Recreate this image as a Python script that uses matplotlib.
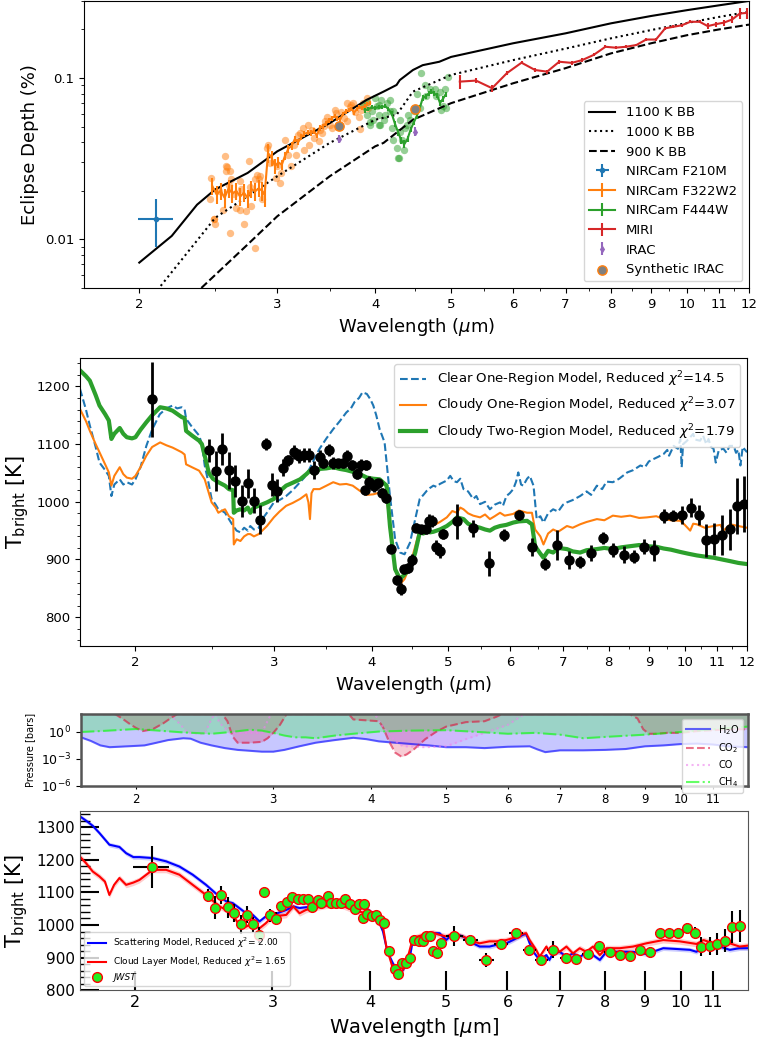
import numpy as np
import matplotlib
matplotlib.use('Agg')
import matplotlib.pyplot as plt
from matplotlib.ticker import FixedLocator, FixedFormatter, NullFormatter, NullLocator, MultipleLocator

# ---------------- eclipse depth panel ----------------
bb_1100 = [(2.0, 0.00718), (2.2, 0.0105), (2.37, 0.0164), (2.5, 0.0204), (2.75, 0.0258),
           (3.0, 0.0351), (3.5, 0.0525), (3.9, 0.0731), (4.1, 0.0823), (4.26, 0.0905),
           (4.30, 0.097), (4.47, 0.112), (4.60, 0.120), (4.83, 0.126), (5.0, 0.135),
           (6.0, 0.164), (7.0, 0.189), (8.0, 0.218), (9.0, 0.242), (10.0, 0.263),
           (11.0, 0.282), (12.0, 0.30)]
bb_1000 = [(2.13, 0.00515), (2.5, 0.0136), (3.0, 0.0246), (3.5, 0.0396), (4.0, 0.0551),
           (4.26, 0.0591), (4.47, 0.0823), (5.0, 0.1044), (6.0, 0.129), (7.0, 0.152),
           (8.0, 0.176), (9.0, 0.198), (10.0, 0.219), (11.0, 0.239), (12.0, 0.257)]
bb_900 = [(2.40, 0.0050), (2.75, 0.0093), (3.0, 0.0139), (3.5, 0.0246), (4.0, 0.0377),
          (4.1, 0.0396), (4.47, 0.0551), (5.0, 0.0698), (6.0, 0.0927), (7.0, 0.115),
          (8.0, 0.142), (9.0, 0.164), (10.0, 0.184), (11.0, 0.200), (12.0, 0.214)]

f210_wl, f210_depth, f210_xerr, f210_yerr = 2.10, 0.0134, 0.11, 0.0044

# F322W2 binned spectrum (wavelength, depth, error)
f322_bins = [(2.48, 0.0213, 0.0026), (2.51, 0.0190, 0.0024), (2.54, 0.0200, 0.0025),
             (2.57, 0.0181, 0.0024), (2.60, 0.0207, 0.0026), (2.63, 0.0192, 0.0025),
             (2.66, 0.0200, 0.0024), (2.69, 0.0184, 0.0024), (2.72, 0.0195, 0.0025),
             (2.75, 0.0180, 0.0023), (2.78, 0.0205, 0.0025), (2.81, 0.0198, 0.0024),
             (2.84, 0.0207, 0.0025), (2.87, 0.0200, 0.0026), (2.89, 0.0188, 0.0030),
             (2.92, 0.0343, 0.0045), (2.95, 0.0320, 0.0035), (2.98, 0.0285, 0.0030),
             (3.01, 0.0300, 0.0025), (3.04, 0.0290, 0.0022), (3.07, 0.0330, 0.0020),
             (3.10, 0.0365, 0.0020), (3.13, 0.0380, 0.0020), (3.16, 0.0420, 0.0020),
             (3.19, 0.0400, 0.0018), (3.22, 0.0430, 0.0018), (3.25, 0.0450, 0.0018),
             (3.28, 0.0460, 0.0018), (3.31, 0.0455, 0.0018), (3.34, 0.0470, 0.0018),
             (3.37, 0.0440, 0.0018), (3.40, 0.0490, 0.0018), (3.43, 0.0500, 0.0018),
             (3.46, 0.0520, 0.0018), (3.49, 0.0545, 0.0018), (3.52, 0.0560, 0.0018),
             (3.55, 0.0580, 0.0018), (3.58, 0.0560, 0.0018), (3.61, 0.0555, 0.0018),
             (3.64, 0.0600, 0.0018), (3.67, 0.0620, 0.0018), (3.70, 0.0630, 0.0018),
             (3.73, 0.0645, 0.0018), (3.76, 0.0610, 0.0018), (3.79, 0.0640, 0.0018),
             (3.82, 0.0660, 0.0018), (3.85, 0.0650, 0.0018), (3.88, 0.0670, 0.0018),
             (3.91, 0.0690, 0.0018), (3.94, 0.0700, 0.0018)]
f322_points = [(2.47, 0.0240), (2.46, 0.0177), (2.49, 0.0133), (2.50, 0.0124), (2.57, 0.0327),
               (2.58, 0.0265), (2.59, 0.0282), (2.61, 0.0265), (2.62, 0.0235), (2.60, 0.0218),
               (2.61, 0.0110), (2.56, 0.0153), (2.69, 0.0229), (2.70, 0.0204), (2.76, 0.0305),
               (2.74, 0.0150), (2.69, 0.0153), (2.66, 0.0157), (2.72, 0.0124), (2.78, 0.0161),
               (2.81, 0.0235), (2.83, 0.0252), (2.84, 0.0235), (2.85, 0.0246), (2.81, 0.0089),
               (2.91, 0.0368), (2.92, 0.0386), (2.94, 0.0297), (2.99, 0.0240), (3.00, 0.0284),
               (3.02, 0.0224), (3.03, 0.0258), (3.07, 0.0414), (3.10, 0.0335), (3.12, 0.0284),
               (3.15, 0.0386), (3.17, 0.0335), (3.19, 0.0445), (3.21, 0.0456), (3.24, 0.0490),
               (3.25, 0.0360), (3.28, 0.0513), (3.29, 0.0386), (3.32, 0.0478), (3.34, 0.0425),
               (3.39, 0.0405), (3.40, 0.0478), (3.42, 0.0456), (3.44, 0.0501), (3.45, 0.0538),
               (3.47, 0.0577), (3.50, 0.0513), (3.52, 0.0490), (3.55, 0.0634), (3.57, 0.0605),
               (3.62, 0.0619), (3.65, 0.0564), (3.68, 0.0538), (3.71, 0.0665), (3.73, 0.0681),
               (3.77, 0.0619), (3.81, 0.0577), (3.83, 0.0483), (3.84, 0.0634), (3.86, 0.0698),
               (3.90, 0.0749), (3.92, 0.0649), (3.75, 0.0698), (3.68, 0.0698), (2.49, 0.0133),
               (2.58, 0.0284), (2.53, 0.0200), (2.64, 0.0190), (2.77, 0.0210), (2.87, 0.0178)]

# F444W binned spectrum (wavelength, depth, error)
f444_bins = [(3.88, 0.063, 0.002), (3.92, 0.064, 0.002), (3.96, 0.066, 0.002), (4.00, 0.065, 0.002),
             (4.04, 0.066, 0.002), (4.08, 0.066, 0.002), (4.12, 0.067, 0.002), (4.16, 0.064, 0.002),
             (4.20, 0.060, 0.002), (4.24, 0.052, 0.002), (4.28, 0.046, 0.002), (4.32, 0.041, 0.002),
             (4.36, 0.039, 0.002), (4.40, 0.042, 0.002), (4.44, 0.048, 0.002), (4.48, 0.053, 0.002),
             (4.52, 0.058, 0.002), (4.56, 0.065, 0.003), (4.60, 0.075, 0.003), (4.64, 0.077, 0.003),
             (4.68, 0.080, 0.003), (4.72, 0.082, 0.003), (4.76, 0.080, 0.003), (4.80, 0.078, 0.003),
             (4.84, 0.070, 0.003), (4.88, 0.074, 0.003), (4.92, 0.079, 0.003)]
f444_points = [(4.58, 0.108), (4.96, 0.101), (4.63, 0.090), (4.70, 0.086), (4.77, 0.086),
               (4.84, 0.082), (4.91, 0.086), (4.52, 0.080), (4.65, 0.077), (4.79, 0.077),
               (4.88, 0.067), (4.92, 0.065), (4.86, 0.063), (4.56, 0.065), (4.48, 0.062),
               (4.41, 0.059), (4.43, 0.055), (4.39, 0.051), (4.37, 0.049), (4.30, 0.046),
               (4.33, 0.041), (4.26, 0.037), (4.35, 0.036), (4.29, 0.032), (4.22, 0.041),
               (4.20, 0.049), (4.10, 0.055), (4.06, 0.051), (3.98, 0.055), (3.94, 0.051),
               (3.90, 0.059), (4.02, 0.067), (4.14, 0.070), (4.18, 0.062), (3.90, 0.071),
               (3.86, 0.067), (3.96, 0.062), (4.04, 0.059), (4.30, 0.055), (4.22, 0.062),
               (4.12, 0.059), (4.00, 0.075), (4.07, 0.073), (4.18, 0.073), (4.04, 0.068),
               (3.94, 0.053), (4.04, 0.051), (4.28, 0.032)]

# MIRI binned spectrum (wavelength, depth, error)
miri_bins = [(5.13, 0.0949, 0.0090), (5.38, 0.0963, 0.0030), (5.64, 0.0864, 0.0040),
             (5.89, 0.107, 0.003), (6.15, 0.1243, 0.003), (6.40, 0.112, 0.003),
             (6.63, 0.1094, 0.003), (6.87, 0.126, 0.004), (7.13, 0.124, 0.003),
             (7.35, 0.129, 0.003), (7.60, 0.1388, 0.003), (7.87, 0.156, 0.003),
             (8.11, 0.154, 0.003), (8.36, 0.156, 0.003), (8.62, 0.160, 0.003),
             (8.87, 0.173, 0.004), (9.13, 0.173, 0.004), (9.38, 0.203, 0.004),
             (9.61, 0.2075, 0.004), (9.85, 0.212, 0.004), (10.10, 0.2228, 0.005),
             (10.38, 0.2228, 0.005), (10.63, 0.2095, 0.008), (10.90, 0.2156, 0.008),
             (11.14, 0.220, 0.010), (11.42, 0.2301, 0.011), (11.68, 0.2506, 0.020),
             (11.93, 0.253, 0.020)]

irac_wl = [3.6, 4.5]
irac_depth = [0.042, 0.0465]
irac_err = [0.0025, 0.003]
synth_irac_depth = [0.0506, 0.0641]

# ---------------- brightness temperature panel ----------------
clear_model = [(1.70, 1196), (1.73, 1160), (1.75, 1132), (1.78, 1095), (1.80, 1068), (1.83, 1055),
               (1.85, 1045), (1.864, 1010), (1.88, 1030), (1.91, 1039), (1.93, 1030), (1.95, 1034),
               (1.98, 1030), (2.0, 1039), (2.03, 1060), (2.065, 1097), (2.1, 1125), (2.148, 1152),
               (2.19, 1162), (2.23, 1167), (2.26, 1162), (2.29, 1164), (2.31, 1160), (2.32, 1144),
               (2.36, 1130), (2.41, 1115), (2.43, 1100), (2.45, 1063), (2.48, 1030), (2.5, 1005),
               (2.53, 995), (2.55, 987), (2.58, 984), (2.6, 981), (2.63, 970), (2.663, 958),
               (2.69, 950), (2.72, 947), (2.75, 955), (2.78, 950), (2.8, 958), (2.83, 952),
               (2.87, 955), (2.9, 970), (2.94, 981), (2.97, 990), (3.0, 999), (3.05, 1003),
               (3.11, 1010), (3.17, 1020), (3.24, 1034), (3.28, 1042), (3.33, 1057), (3.38, 1075),
               (3.43, 1092), (3.5, 1110), (3.57, 1126), (3.64, 1140), (3.71, 1155), (3.76, 1162),
               (3.8, 1173), (3.85, 1180), (3.89, 1190), (3.94, 1187), (3.98, 1178), (4.015, 1167),
               (4.05, 1150), (4.09, 1126), (4.15, 1103), (4.216, 1010), (4.28, 935), (4.342, 912),
               (4.4, 909), (4.47, 929), (4.54, 970), (4.6, 1005), (4.65, 1012), (4.695, 1019),
               (4.74, 1024), (4.787, 1028), (4.83, 1026), (4.88, 1031), (4.93, 1034), (4.98, 1037),
               (5.03, 1045), (5.08, 1036), (5.13, 1034), (5.18, 1040), (5.23, 1022), (5.3, 1018),
               (5.38, 1005), (5.43, 1010), (5.49, 996), (5.57, 1000), (5.65, 987), (5.73, 995),
               (5.82, 999), (5.87, 993), (5.93, 1010), (5.99, 1015), (6.05, 1022), (6.1, 1035),
               (6.14, 1051), (6.19, 1030), (6.23, 1028), (6.3, 1040), (6.35, 1045), (6.42, 1028),
               (6.48, 970), (6.55, 975), (6.61, 964), (6.7, 980), (6.8, 987), (6.9, 983),
               (7.0, 995), (7.08, 999), (7.2, 1003), (7.36, 1010), (7.5, 1018), (7.6, 1012),
               (7.73, 1028), (7.85, 1022), (7.95, 1035), (8.1, 1034), (8.25, 1040), (8.45, 1051),
               (8.6, 1055), (8.78, 1063), (8.9, 1060), (9.0, 1070), (9.12, 1074), (9.25, 1078),
               (9.4, 1083), (9.5, 1090), (9.55, 1080), (9.68, 1097), (9.8, 1092), (9.87, 1109),
               (9.91, 1060), (9.95, 1100), (10.05, 1105), (10.16, 1112), (10.25, 1118), (10.3, 1108),
               (10.46, 1106), (10.55, 1115), (10.65, 1100), (10.72, 1109), (10.8, 1095), (10.88, 1092),
               (10.95, 1068), (11.05, 1090), (11.2, 1092), (11.3, 1085), (11.4, 1097), (11.54, 1097),
               (11.62, 1085), (11.7, 1090), (11.77, 1063), (11.85, 1095), (12.0, 1086)]
cloudy_one = [(1.70, 1161), (1.73, 1140), (1.75, 1123), (1.78, 1100), (1.80, 1086), (1.83, 1065),
              (1.85, 1051), (1.864, 1028), (1.88, 1045), (1.91, 1060), (1.93, 1048), (1.95, 1042),
              (1.98, 1040), (2.0, 1045), (2.03, 1060), (2.065, 1080), (2.1, 1095), (2.15, 1103),
              (2.19, 1098), (2.23, 1094), (2.26, 1090), (2.29, 1086), (2.31, 1082), (2.32, 1065),
              (2.36, 1060), (2.41, 1054), (2.45, 1039), (2.48, 1015), (2.5, 999), (2.53, 990),
              (2.55, 981), (2.58, 985), (2.6, 987), (2.63, 975), (2.663, 970), (2.668, 926),
              (2.69, 935), (2.72, 932), (2.75, 940), (2.78, 944), (2.8, 944), (2.83, 940),
              (2.87, 944), (2.9, 950), (2.94, 958), (3.0, 973), (3.05, 983), (3.11, 993),
              (3.17, 998), (3.24, 1005), (3.3, 1013), (3.32, 999), (3.335, 970), (3.35, 1015),
              (3.37, 1022), (3.43, 1022), (3.5, 1028), (3.57, 1034), (3.64, 1030), (3.71, 1031),
              (3.78, 1028), (3.86, 1019), (3.94, 1012), (4.015, 1013), (4.09, 1016), (4.175, 1010),
              (4.216, 952), (4.28, 883), (4.342, 857), (4.4, 866), (4.47, 889), (4.54, 923),
              (4.6, 952), (4.695, 958), (4.787, 959), (4.88, 965), (4.98, 973), (5.06, 984),
              (5.13, 981), (5.18, 990), (5.23, 987), (5.3, 980), (5.38, 976), (5.49, 973),
              (5.57, 978), (5.65, 970), (5.73, 975), (5.82, 981), (5.9, 976), (6.05, 979),
              (6.15, 985), (6.3, 981), (6.39, 981), (6.45, 952), (6.55, 940), (6.61, 926),
              (6.7, 945), (6.8, 952), (6.9, 948), (7.08, 958), (7.2, 955), (7.36, 961),
              (7.5, 965), (7.73, 970), (7.9, 968), (8.1, 976), (8.3, 974), (8.52, 976),
              (8.75, 972), (8.95, 973), (9.2, 975), (9.4, 970), (9.6, 968), (9.87, 967),
              (10.0, 960), (10.16, 950), (10.25, 962), (10.36, 961), (10.6, 955), (10.88, 958),
              (11.1, 960), (11.2, 950), (11.43, 961), (11.7, 958), (12.0, 955)]
cloudy_two = [(1.70, 1228), (1.73, 1218), (1.75, 1210), (1.78, 1185), (1.80, 1167), (1.83, 1152),
              (1.85, 1141), (1.864, 1109), (1.88, 1118), (1.91, 1128), (1.93, 1118), (1.95, 1112),
              (1.98, 1110), (2.0, 1112), (2.03, 1125), (2.065, 1138), (2.1, 1150), (2.15, 1164),
              (2.19, 1162), (2.23, 1158), (2.29, 1147), (2.31, 1145), (2.32, 1123), (2.36, 1115),
              (2.41, 1106), (2.43, 1100), (2.45, 1080), (2.48, 1050), (2.51, 1040), (2.55, 1034),
              (2.6, 1028), (2.63, 1022), (2.663, 1020), (2.668, 981), (2.69, 985), (2.72, 987),
              (2.75, 985), (2.78, 990), (2.8, 981), (2.83, 990), (2.87, 993), (2.94, 999),
              (3.0, 1005), (3.05, 1018), (3.11, 1028), (3.17, 1033), (3.24, 1039), (3.3, 1048),
              (3.335, 1054), (3.38, 1048), (3.43, 1057), (3.5, 1058), (3.57, 1060), (3.64, 1057),
              (3.71, 1055), (3.78, 1052), (3.86, 1048), (3.94, 1042), (4.015, 1040), (4.09, 1039),
              (4.175, 1028), (4.216, 958), (4.28, 883), (4.342, 866), (4.4, 874), (4.47, 883),
              (4.54, 912), (4.6, 947), (4.65, 945), (4.695, 950), (4.74, 947), (4.787, 948),
              (4.88, 952), (4.98, 958), (5.06, 965), (5.13, 973), (5.23, 970), (5.3, 962),
              (5.38, 958), (5.49, 955), (5.57, 952), (5.65, 950), (5.73, 955), (5.82, 958),
              (5.93, 960), (6.05, 964), (6.15, 966), (6.30, 967), (6.39, 961), (6.45, 923),
              (6.55, 910), (6.61, 903), (6.7, 915), (6.8, 912), (6.9, 920), (7.08, 918),
              (7.2, 914), (7.36, 912), (7.5, 916), (7.73, 918), (7.9, 920), (8.1, 918),
              (8.3, 921), (8.52, 923), (8.75, 925), (8.95, 923), (9.2, 922), (9.4, 919),
              (9.6, 917), (9.87, 913), (10.1, 910), (10.36, 907), (10.6, 905), (10.88, 903),
              (11.15, 900), (11.43, 897), (11.7, 894), (12.0, 892)]

# measured brightness temperatures (wavelength, T, T error, wavelength half-width)
tb_data = [(2.10, 1178, 65, 0.11),
           (2.48, 1089, 20, 0), (2.53, 1053, 35, 0), (2.58, 1092, 28, 0), (2.63, 1055, 32, 0),
           (2.68, 1036, 28, 0), (2.73, 1002, 28, 0), (2.78, 1032, 25, 0), (2.83, 1002, 22, 0),
           (2.88, 969, 25, 0), (2.93, 1100, 10, 0), (2.98, 1030, 20, 0), (3.03, 1019, 20, 0),
           (3.08, 1059, 15, 0), (3.13, 1072, 10, 0), (3.18, 1086, 12, 0), (3.23, 1080, 12, 0),
           (3.28, 1081, 12, 0), (3.33, 1081, 12, 0), (3.37, 1055, 15, 0), (3.43, 1077, 12, 0),
           (3.46, 1068, 10, 0), (3.53, 1090, 10, 0), (3.57, 1067, 10, 0), (3.62, 1067, 8, 0),
           (3.67, 1067, 8, 0), (3.72, 1079, 10, 0), (3.77, 1064, 8, 0), (3.83, 1049, 10, 0),
           (3.87, 1064, 10, 0), (3.93, 1064, 8, 0), (3.92, 1020, 8, 0), (3.97, 1035, 10, 0),
           (4.02, 1027, 10, 0), (4.07, 1032, 8, 0), (4.12, 1016, 8, 0), (4.17, 1006, 8, 0),
           (4.23, 919, 8, 0), (4.30, 864, 8, 0), (4.35, 849, 10, 0), (4.39, 883, 8, 0),
           (4.45, 885, 8, 0), (4.50, 899, 10, 0), (4.55, 955, 8, 0), (4.62, 952, 8, 0),
           (4.68, 952, 8, 0), (4.72, 967, 12, 0), (4.77, 967, 10, 0), (4.82, 921, 12, 0),
           (4.88, 915, 12, 0), (4.93, 944, 8, 0),
           (5.13, 966, 30, 0.125), (5.38, 954, 15, 0.125), (5.64, 893, 22, 0.125),
           (5.89, 942, 10, 0.125), (6.15, 977, 8, 0.125), (6.40, 922, 16, 0.125),
           (6.63, 892, 10, 0.125), (6.87, 925, 26, 0.125), (7.13, 899, 15, 0.125),
           (7.35, 896, 10, 0.125), (7.60, 911, 14, 0.125), (7.87, 937, 10, 0.125),
           (8.11, 916, 12, 0.125), (8.36, 908, 15, 0.125), (8.62, 905, 12, 0.125),
           (8.87, 922, 13, 0.125), (9.13, 916, 18, 0.125), (9.41, 976, 12, 0.125),
           (9.66, 976, 10, 0.125), (9.93, 977, 15, 0.125), (10.18, 990, 16, 0.125),
           (10.44, 977, 18, 0.125), (10.63, 933, 29, 0.125), (10.90, 936, 28, 0.125),
           (11.14, 942, 35, 0.125), (11.40, 952, 36, 0.125), (11.65, 993, 49, 0.125),
           (11.90, 996, 49, 0.125)]

# ---------------- contribution pressures (log10 bar) ----------------
h2o_logp = [(1.70, -0.6), (1.75, -1.0), (1.80, -1.5), (1.85, -1.7), (1.90, -1.65), (1.95, -1.6),
            (2.0, -1.55), (2.05, -1.5), (2.1, -1.3), (2.2, -0.9), (2.3, -0.7), (2.35, -0.75),
            (2.42, -1.2), (2.5, -1.5), (2.6, -1.8), (2.7, -2.0), (2.8, -2.1), (2.9, -2.2),
            (3.0, -2.2), (3.1, -2.0), (3.24, -1.6), (3.4, -1.2), (3.6, -0.9), (3.8, -0.65),
            (3.95, -0.8), (4.1, -1.05), (4.3, -1.2), (4.52, -1.35), (4.75, -1.5), (5.0, -1.7),
            (5.3, -1.7), (5.6, -1.8), (6.0, -1.65), (6.4, -1.6), (6.55, -1.95), (6.7, -2.25),
            (7.0, -2.05), (7.5, -2.05), (8.0, -2.0), (8.5, -1.9), (9.0, -1.6), (9.5, -1.5),
            (10.0, -1.35), (10.5, -1.3), (11.0, -1.4), (11.5, -1.6), (12.2, -1.7)]
co2_logp = [(1.70, 2.0), (1.88, 2.0), (1.92, 1.5), (1.97, 0.8), (2.0, 0.45), (2.04, 0.1),
            (2.1, 0.3), (2.17, 1.0), (2.22, 1.6), (2.26, 2.0), (2.58, 2.0), (2.62, 1.2),
            (2.66, -0.5), (2.7, -1.2), (2.8, -1.2), (2.9, -1.1), (2.95, -0.7), (3.0, -0.1),
            (3.06, 0.8), (3.12, 2.0), (3.75, 2.0), (3.8, 1.4), (3.95, 1.3), (4.1, 1.2),
            (4.15, 0.5), (4.22, -1.0), (4.3, -2.3), (4.38, -2.75), (4.45, -2.5), (4.55, -1.9),
            (4.7, -0.8), (4.85, 0.0), (5.0, 0.6), (5.3, 1.1), (5.6, 1.2), (5.8, 1.7),
            (5.9, 2.0), (8.6, 2.0), (8.8, 1.5), (8.95, 0.3), (9.1, -0.2), (9.3, -0.2),
            (9.6, -0.1), (10.0, -0.1), (10.5, 0.1), (11.0, 0.2), (11.5, 0.3), (12.2, 0.3)]
co_logp = [(1.70, 2.0), (2.2, 2.0), (2.27, 1.0), (2.33, -0.1), (2.45, -0.2), (2.5, 1.5),
           (2.53, 2.0), (2.56, 1.0), (2.64, -0.1), (2.9, -0.1), (2.98, 2.0), (4.05, 2.0),
           (4.15, 0.5), (4.3, -1.0), (4.4, -1.6), (4.7, -1.7), (5.0, -1.6), (5.3, -0.8),
           (5.6, -0.1), (6.0, 0.8), (6.3, 2.0), (12.2, 2.0)]
ch4_logp = [(1.70, 0.0), (1.8, 0.1), (2.0, 0.33), (2.1, 0.2), (2.3, -0.05), (2.5, -0.2),
            (2.65, 0.0), (2.8, 0.25), (2.9, 0.15), (3.0, -0.1), (3.1, -0.4), (3.2, -0.6),
            (3.3, -0.6), (3.4, -0.7), (3.6, -0.4), (3.8, -0.2), (4.1, 0.05), (4.5, 0.15),
            (5.0, 0.2), (5.5, 0.0), (6.0, -0.2), (6.5, -0.1), (7.0, -0.3), (7.5, -0.7),
            (8.0, -0.55), (9.0, -0.3), (10.0, 0.0), (11.0, 0.3), (12.2, 0.6)]

# ---------------- retrieval comparison panel ----------------
scattering_model = [(1.699, 1333), (1.73, 1320), (1.765, 1304), (1.80, 1282), (1.854, 1246),
                    (1.91, 1239), (1.948, 1220), (1.99, 1208), (2.026, 1208), (2.107, 1205),
                    (2.192, 1195), (2.28, 1179), (2.371, 1154), (2.466, 1123), (2.565, 1087),
                    (2.62, 1072), (2.668, 1067), (2.72, 1052), (2.776, 1036), (2.83, 1031),
                    (2.887, 1011), (2.94, 1026), (3.0, 1031), (3.124, 1046), (3.19, 1057),
                    (3.249, 1052), (3.379, 1057), (3.515, 1062), (3.657, 1062), (3.803, 1057),
                    (3.956, 1052), (4.03, 1036), (4.115, 1005), (4.156, 980), (4.197, 934),
                    (4.24, 903), (4.279, 883), (4.32, 867), (4.364, 857), (4.41, 862),
                    (4.451, 883), (4.5, 903), (4.539, 954), (4.61, 963), (4.676, 965),
                    (4.815, 975), (4.91, 975), (5.009, 954), (5.11, 975), (5.262, 965),
                    (5.42, 944), (5.527, 934), (5.69, 934), (5.806, 939), (5.98, 944),
                    (6.098, 954), (6.28, 970), (6.34, 973), (6.406, 944), (6.50, 913),
                    (6.598, 893), (6.73, 908), (6.79, 893), (6.862, 913), (7.0, 918),
                    (7.14, 903), (7.28, 913), (7.426, 903), (7.57, 913), (7.723, 908),
                    (7.88, 893), (8.035, 918), (8.357, 918), (8.691, 918), (9.041, 911),
                    (9.5, 929), (9.975, 926), (10.28, 924), (10.48, 918), (10.7, 934),
                    (11.01, 929), (11.23, 934), (11.56, 924), (11.9, 929), (12.2, 929)]
cloud_layer_model = [(1.699, 1210), (1.73, 1190), (1.765, 1164), (1.80, 1149), (1.83, 1133),
                     (1.854, 1092), (1.88, 1123), (1.91, 1144), (1.948, 1123), (1.99, 1130),
                     (2.026, 1138), (2.107, 1169), (2.192, 1169), (2.28, 1154), (2.371, 1123),
                     (2.466, 1092), (2.565, 1057), (2.62, 1046), (2.668, 1031), (2.72, 1000),
                     (2.776, 995), (2.83, 1005), (2.887, 990), (2.94, 1005), (3.0, 1026),
                     (3.124, 1031), (3.19, 1057), (3.249, 1036), (3.31, 1046), (3.379, 1052),
                     (3.515, 1059), (3.657, 1062), (3.803, 1046), (3.956, 1036), (4.115, 1016),
                     (4.156, 995), (4.197, 934), (4.279, 867), (4.33, 842), (4.38, 852),
                     (4.451, 883), (4.539, 960), (4.676, 970), (4.815, 977), (4.91, 970),
                     (5.009, 965), (5.11, 973), (5.262, 965), (5.42, 950), (5.527, 944),
                     (5.69, 950), (5.806, 950), (5.98, 954), (6.098, 960), (6.28, 973),
                     (6.34, 975), (6.406, 954), (6.53, 924), (6.598, 903), (6.73, 934),
                     (6.79, 918), (6.862, 934), (7.0, 918), (7.14, 934), (7.28, 913),
                     (7.426, 929), (7.57, 918), (7.723, 934), (7.88, 908), (8.035, 929),
                     (8.357, 929), (8.691, 934), (9.041, 944), (9.5, 954), (9.975, 950),
                     (10.48, 942), (10.7, 954), (11.01, 944), (11.56, 944), (11.9, 934),
                     (12.2, 937)]
scattering_band = 7
cloud_band = 9


def cols(rows):
    return [np.array(c) for c in zip(*rows)]


def wl_axis(ax, major, minor=(), size=10):
    ax.set_xscale('log')
    ax.xaxis.set_major_locator(FixedLocator(major))
    ax.xaxis.set_major_formatter(FixedFormatter([str(t) for t in major]))
    ax.xaxis.set_minor_locator(FixedLocator(list(minor)))
    ax.xaxis.set_minor_formatter(NullFormatter())
    ax.tick_params(axis='x', labelsize=size)


fig = plt.figure(figsize=(7.58, 10.37), dpi=100)
ax1 = fig.add_axes([0.1108, 0.7223, 0.8773, 0.2768])
ax2 = fig.add_axes([0.1055, 0.3771, 0.880, 0.2780])
ax3 = fig.add_axes([0.1069, 0.2423, 0.880, 0.0691])
ax4 = fig.add_axes([0.1055, 0.0450, 0.8813, 0.1732])

major_wl = [2, 3, 4, 5, 6, 7, 8, 9, 10, 11, 12]
half_wl = [2.5, 3.5, 4.5, 5.5, 6.5, 7.5, 8.5, 9.5, 10.5, 11.5]

# --- eclipse depths ---
handles = []
for rows, ls, lab in [(bb_1100, '-', '1100 K BB'), (bb_1000, ':', '1000 K BB'), (bb_900, '--', '900 K BB')]:
    w, d = cols(rows)
    handles += ax1.plot(w, d, ls, color='k', lw=1.5, label=lab)
handles.append(ax1.errorbar(f210_wl, f210_depth, xerr=f210_xerr, yerr=f210_yerr, fmt='.',
                            color='C0', label='NIRCam F210M'))
w, d = cols(f322_points)
ax1.scatter(w, d, s=28, color='C1', alpha=0.5, lw=0)
w, d, e = cols(f322_bins)
handles.append(ax1.errorbar(w, d, yerr=e, color='C1', lw=1.5, label='NIRCam F322W2'))
w, d = cols(f444_points)
ax1.scatter(w, d, s=28, color='C2', alpha=0.5, lw=0)
w, d, e = cols(f444_bins)
handles.append(ax1.errorbar(w, d, yerr=e, color='C2', lw=1.5, label='NIRCam F444W'))
w, d, e = cols(miri_bins)
handles.append(ax1.errorbar(w, d, yerr=e, color='C3', lw=1.5, label='MIRI'))
handles.append(ax1.errorbar(irac_wl, irac_depth, yerr=irac_err, fmt='d', ms=3, color='C4',
                            label='IRAC'))
handles.append(ax1.scatter(irac_wl, synth_irac_depth, s=45, color='gray', edgecolor='C1', lw=1,
                           zorder=6, label='Synthetic IRAC'))
ax1.set_yscale('log')
ax1.set_xlim(1.7, 12)
ax1.set_ylim(0.005, 0.3)
wl_axis(ax1, major_wl, half_wl, size=9.5)
ax1.yaxis.set_major_locator(FixedLocator([0.01, 0.1]))
ax1.yaxis.set_major_formatter(FixedFormatter(['0.01', '0.1']))
ax1.yaxis.set_minor_formatter(NullFormatter())
ax1.tick_params(axis='y', labelsize=9.5)
ax1.set_xlabel(r'Wavelength ($\mu$m)', fontsize=13)
ax1.set_ylabel('Eclipse Depth (%)', fontsize=13)
ax1.legend(handles=handles, loc='lower right', fontsize=9.5)

# --- brightness temperatures ---
w, t = cols(clear_model)
ax2.plot(w, t, '--', color='C0', lw=1.5, label=r'Clear One-Region Model, Reduced $\chi^2$=14.5')
w, t = cols(cloudy_one)
ax2.plot(w, t, color='C1', lw=1.5, label=r'Cloudy One-Region Model, Reduced $\chi^2$=3.07')
w, t = cols(cloudy_two)
ax2.plot(w, t, color='C2', lw=3, label=r'Cloudy Two-Region Model, Reduced $\chi^2$=1.79')
tb_wl, tb_t, tb_err, tb_xerr = cols(tb_data)
ax2.errorbar(tb_wl, tb_t, yerr=tb_err, fmt='o', color='k', ms=6.5, elinewidth=2, zorder=5)
ax2.set_xlim(1.7, 12)
ax2.set_ylim(750, 1250)
wl_axis(ax2, major_wl, half_wl, size=9.5)
ax2.yaxis.set_major_locator(MultipleLocator(100))
ax2.yaxis.set_minor_locator(MultipleLocator(20))
ax2.tick_params(axis='y', labelsize=9.5)
ax2.set_xlabel(r'Wavelength ($\mu$m)', fontsize=13)
ax2.set_ylabel(r'T$_{\rm bright}$ [K]', fontsize=15)
ax2.legend(loc='upper right', fontsize=9.5)

# --- contribution pressures ---
p_top = 1e2
for rows, color, ls, lab in [(h2o_logp, 'blue', '-', r'H$_2$O'),
                             (co2_logp, 'crimson', '--', r'CO$_2$'),
                             (co_logp, 'violet', ':', 'CO'),
                             (ch4_logp, 'lime', '-.', r'CH$_4$')]:
    w, lp = cols(rows)
    p = 10.0 ** lp
    ax3.fill_between(w, p, p_top, color=color, alpha=0.22, lw=0)
    ax3.plot(w, p, ls, color=color, alpha=0.6, lw=1.5, label=lab)
ax3.set_yscale('log')
ax3.set_xlim(1.7, 12.2)
ax3.set_ylim(1e-6, p_top)
wl_axis(ax3, major_wl[:-1], size=8.5)
ax3.yaxis.set_major_locator(FixedLocator([1e-6, 1e-3, 1e0]))
ax3.yaxis.set_major_formatter(FixedFormatter([r'$10^{-6}$', r'$10^{-3}$', r'$10^{0}$']))
ax3.yaxis.set_minor_locator(NullLocator())
ax3.tick_params(axis='y', labelsize=9)
ax3.tick_params(axis='x', length=2)
ax3.set_ylabel('Pressure [bars]', fontsize=7)
for s in ax3.spines.values():
    s.set_color('#555555')
    s.set_linewidth(1.8)
ax3.legend(loc='upper right', fontsize=7, handlelength=2.5, framealpha=0.8)

# --- retrieval comparison ---
w, t = cols(scattering_model)
ax4.fill_between(w, t - scattering_band, t + scattering_band, color='blue', alpha=0.2, lw=0)
ax4.plot(w, t, color='blue', lw=1.5, label=r'Scattering Model, Reduced $\chi^2$= 2.00')
w, t = cols(cloud_layer_model)
ax4.fill_between(w, t - cloud_band, t + cloud_band, color='red', alpha=0.2, lw=0)
ax4.plot(w, t, color='red', lw=1.5, label=r'Cloud Layer Model, Reduced $\chi^2$= 1.65')
ax4.errorbar(tb_wl, tb_t, xerr=tb_xerr, yerr=tb_err, fmt='none', ecolor='k', elinewidth=1.5, zorder=4)
ax4.plot(tb_wl, tb_t, 'o', ms=7, mfc='#22ee22', mec='red', mew=1, zorder=5, label='JWST')
ax4.set_xlim(1.7, 12.2)
ax4.set_ylim(800, 1350)
wl_axis(ax4, major_wl[:-1], size=11.5)
ax4.yaxis.set_major_locator(MultipleLocator(100))
ax4.yaxis.set_minor_locator(MultipleLocator(20))
ax4.tick_params(which='major', direction='in', length=14, width=1.5)
ax4.tick_params(which='minor', direction='in', length=7, width=1)
ax4.tick_params(axis='y', labelsize=11)
ax4.set_xlabel(r'Wavelength [$\mu$m]', fontsize=14)
ax4.set_ylabel(r'T$_{\rm bright}$ [K]', fontsize=15)
ax4.yaxis.set_label_coords(-0.075, 0.5)
for s in ax4.spines.values():
    s.set_color('#555555')
leg = ax4.legend(loc='lower left', fontsize=6.5)
leg.get_texts()[2].set_style('italic')

fig.savefig('out.png', dpi=100)
